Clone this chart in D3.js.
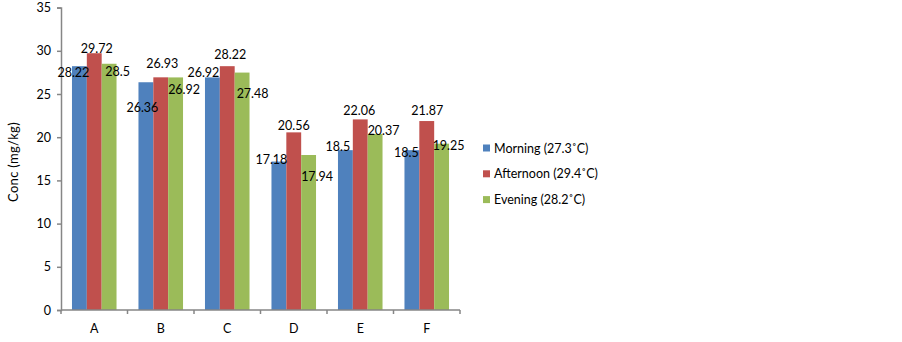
<!DOCTYPE html>
<html>
<head>
<meta charset="utf-8">
<script src="https://cdn.jsdelivr.net/npm/d3@7"></script>
<style>
  body { margin: 0; background: #fff; }
  text { font-family: Lato, "Open Sans", sans-serif; fill: #000; }
</style>
</head>
<body>
<script>
// data
var categories = ["A", "B", "C", "D", "E", "F"];
var seriesNames = ["Morning (27.3˚C)", "Afternoon (29.4˚C)", "Evening (28.2˚C)"];
var morning   = [28.22, 26.36, 26.92, 17.18, 18.5, 18.5];
var afternoon = [29.72, 26.93, 28.22, 20.56, 22.06, 21.87];
var evening   = [28.5, 26.92, 27.48, 17.94, 20.37, 19.25];
var yTicks = [0, 5, 10, 15, 20, 25, 30, 35];

var colors = ["#4F81BD", "#C0504D", "#9BBB59"];

// where excel dropped each value label, relative to the bar top (dx, dy)
var labelNudge = [
  [[-6, 6], [-3.5, 25], [-9, -5], [-7.5, -2.5], [-7.5, -4], [-5.5, 2]],
  [[2.5, -5], [1.5, -14], [3, -12], [0, -7], [-1, -9], [0.5, -11]],
  [[8.5, 8], [8.5, 12.5], [10.5, 21], [8.5, 22], [8.5, -4], [7, 2]]
];

var width = 902, height = 342;
var margin = {left: 61, top: 7.6, right: 442, bottom: 32};

var svg = d3.select("body").append("svg")
    .attr("width", width)
    .attr("height", height);

var x = d3.scaleBand()
    .domain(categories)
    .range([margin.left, width - margin.right])
    .paddingInner(0.33)
    .paddingOuter(0.165);

var x1 = d3.scaleBand()
    .domain(d3.range(seriesNames.length))
    .range([0, x.bandwidth()]);

var y = d3.scaleLinear()
    .domain([0, 35])
    .range([height - margin.bottom, margin.top]);

var allSeries = [morning, afternoon, evening];

// bars
allSeries.forEach(function(vals, s) {
    svg.append("g").selectAll("rect")
        .data(vals)
        .enter().append("rect")
        .attr("x", function(d, i) { return x(categories[i]) + x1(s); })
        .attr("y", function(d) { return y(d); })
        .attr("width", x1.bandwidth())
        .attr("height", function(d) { return y(0) - y(d); })
        .attr("fill", colors[s]);
});

// axes
var yAxis = svg.append("g")
    .attr("transform", "translate(" + margin.left + ",0)")
    .call(d3.axisLeft(y).tickValues(yTicks).tickSize(4).tickPadding(6));

var xEdges = d3.axisBottom(x).tickSize(0).tickPadding(14);
var xAxis = svg.append("g")
    .attr("transform", "translate(0," + y(0) + ")")
    .call(xEdges);

// excel puts the x ticks between categories
var step = x.step();
var edges = d3.range(categories.length + 1).map(function(i) {
    return margin.left + i * step;
});
xAxis.selectAll(".edge")
    .data(edges)
    .enter().append("line")
    .attr("class", "edge")
    .attr("x1", function(d) { return d; })
    .attr("x2", function(d) { return d; })
    .attr("y1", 0)
    .attr("y2", 4);
xAxis.select(".domain").attr("d", "M" + margin.left + ",0H" + (width - margin.right));

svg.selectAll(".domain, .tick line, .edge")
    .attr("stroke", "#868686")
    .attr("stroke-width", 1.5);
svg.selectAll(".tick text")
    .attr("font-size", "12.5px")
    .attr("font-family", "Lato, 'Open Sans', sans-serif")
    .attr("fill", "#000");

// value labels
allSeries.forEach(function(vals, s) {
    svg.append("g").selectAll("text")
        .data(vals)
        .enter().append("text")
        .attr("x", function(d, i) {
            return x(categories[i]) + x1(s) + x1.bandwidth() / 2 + labelNudge[s][i][0];
        })
        .attr("y", function(d, i) { return y(d) + labelNudge[s][i][1]; })
        .attr("text-anchor", "middle")
        .attr("dominant-baseline", "central")
        .attr("font-size", "12.5px")
        .text(function(d) { return d; });
});

// y title
svg.append("text")
    .attr("transform", "translate(13,162) rotate(-90)")
    .attr("text-anchor", "middle")
    .attr("dominant-baseline", "central")
    .attr("font-size", "13px")
    .attr("letter-spacing", "0.3px")
    .text("Conc (mg/kg)");

// legend
var legend = svg.append("g")
    .attr("transform", "translate(483,148)");
var item = legend.selectAll("g")
    .data(seriesNames)
    .enter().append("g")
    .attr("transform", function(d, i) { return "translate(0," + (i * 25.8) + ")"; });
item.append("rect")
    .attr("x", 0)
    .attr("y", -3.5)
    .attr("width", 7)
    .attr("height", 7)
    .attr("fill", function(d, i) { return colors[i]; });
item.append("text")
    .attr("x", 11)
    .attr("y", 0)
    .attr("dominant-baseline", "central")
    .attr("font-size", "12.5px")
    .text(function(d) { return d; });
</script>
</body>
</html>
